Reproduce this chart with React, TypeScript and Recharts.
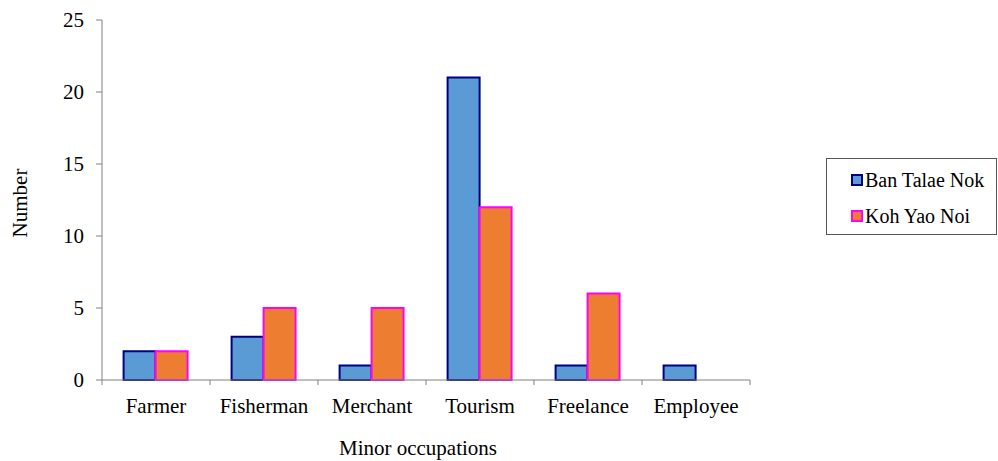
import { Bar, BarChart, XAxis, YAxis } from "recharts";

const occupations = ["Farmer", "Fisherman", "Merchant", "Tourism", "Freelance", "Employee"];
const banTalaeNok = [2, 3, 1, 21, 1, 1];
const kohYaoNoi = [2, 5, 5, 12, 6, 0];
const yTicks = [0, 5, 10, 15, 20, 25];

const data = occupations.map((name, i) => ({
  name,
  banTalaeNok: banTalaeNok[i],
  kohYaoNoi: kohYaoNoi[i],
}));

const FONT = '"Times New Roman", "Liberation Serif", serif';
const AXIS = "#808080";
const LABEL_GAP = 18;

// category labels, with the tick marks drawn on the band edges instead of the centres
function EdgeTick(props: any) {
  const { x, y, payload, index, visibleTicksCount } = props;
  const half = payload.offset ?? 0;
  const last = index === (visibleTicksCount ?? occupations.length) - 1;
  const top = y - LABEL_GAP;
  return (
    <g>
      <line x1={x - half} x2={x - half} y1={top} y2={top + 5} stroke={AXIS} />
      {last && <line x1={x + half} x2={x + half} y1={top} y2={top + 5} stroke={AXIS} />}
      <text x={x} y={y} dy="0.71em" textAnchor="middle" fontSize={21} style={{ fontFamily: FONT }} fill="#000">
        {payload.value}
      </text>
    </g>
  );
}

function LegendBox() {
  const items = [
    { label: "Ban Talae Nok", fill: "#5B9BD5", stroke: "#000080" },
    { label: "Koh Yao Noi", fill: "#ED7D31", stroke: "#FF00FF" },
  ];
  return (
    <div
      style={{
        position: "absolute",
        left: 826,
        top: 158,
        border: "1px solid #555",
        width: 171,
        height: 77,
        boxSizing: "border-box",
        paddingTop: 3,
        paddingLeft: 24,
        fontFamily: FONT,
        fontSize: 20,
        color: "#000",
      }}
    >
      {items.map((it) => (
        <div key={it.label} style={{ display: "flex", alignItems: "center", height: 36, whiteSpace: "nowrap" }}>
          <span
            style={{
              width: 12,
              height: 12,
              flex: "none",
              background: it.fill,
              border: `2px solid ${it.stroke}`,
              boxSizing: "border-box",
              marginRight: 2,
            }}
          />
          {it.label}
        </div>
      ))}
    </div>
  );
}

export default function App() {
  return (
    <div style={{ position: "absolute", left: 0, top: 0, width: 998, height: 461, background: "#fff", fontFamily: FONT }}>
      <BarChart
        width={998}
        height={461}
        data={data}
        margin={{ top: 20, right: 248, bottom: 51, left: 42 }}
        barCategoryGap="20%"
        barGap={0}
        style={{ fontFamily: FONT }}
      >
        <XAxis
          dataKey="name"
          stroke={AXIS}
          tickLine={false}
          tickSize={0}
          tickMargin={LABEL_GAP}
          height={30}
          tick={<EdgeTick />}
          interval={0}
        />
        <YAxis
          width={60}
          domain={[0, 25]}
          ticks={yTicks}
          stroke={AXIS}
          tickSize={6}
          tickMargin={12}
          tick={{ fill: "#000", fontSize: 21, style: { fontFamily: FONT } }}
          interval={0}
        />
        <Bar
          dataKey="banTalaeNok"
          name="Ban Talae Nok"
          fill="#5B9BD5"
          stroke="#000080"
          strokeWidth={2}
          isAnimationActive={false}
        />
        <Bar
          dataKey="kohYaoNoi"
          name="Koh Yao Noi"
          fill="#ED7D31"
          stroke="#FF00FF"
          strokeWidth={2}
          isAnimationActive={false}
        />
        <text
          x={20}
          y={203}
          transform="rotate(-90 20 203)"
          textAnchor="middle"
          dominantBaseline="central"
          fontSize={21}
          style={{ fontFamily: FONT }}
        >
          Number
        </text>
        <text x={418} y={455} textAnchor="middle" fontSize={21} style={{ fontFamily: FONT }}>
          Minor occupations
        </text>
      </BarChart>
      <LegendBox />
    </div>
  );
}
